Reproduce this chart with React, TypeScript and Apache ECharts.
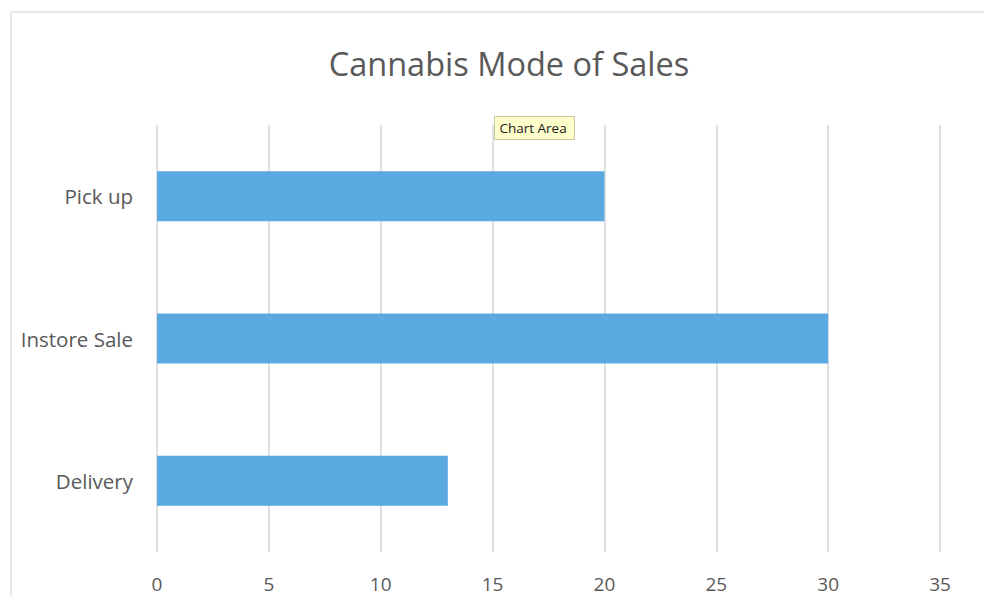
import React, { useEffect, useRef } from "react";
import * as echarts from "echarts";

const categories = ["Pick up", "Instore Sale", "Delivery"];
const values = [20, 30, 13];
const titleText = "Cannabis Mode of Sales";
const tipText = "Chart Area";

export default function App() {
  const ref = useRef<HTMLDivElement>(null);
  useEffect(() => {
    const chart = echarts.init(ref.current!, null, { renderer: "svg" });
    chart.setOption({
      animation: false,
      backgroundColor: "#ffffff",
      title: {
        text: titleText,
        left: 504,
        top: 42,
        textAlign: "center",
        textStyle: { fontFamily: "Open Sans", fontSize: 32.5, fontWeight: "normal", color: "#595959" },
      },
      grid: { left: 157, right: 44, top: 125, bottom: 44, containLabel: false },
      xAxis: {
        type: "value",
        min: 0,
        max: 35,
        interval: 5,
        axisLine: { show: false },
        axisTick: { show: false },
        axisLabel: { fontFamily: "Open Sans", fontSize: 19, color: "#595959", margin: 22 },
        splitLine: { show: true, lineStyle: { color: "#e0e0e0", width: 2 } },
      },
      yAxis: {
        type: "category",
        data: categories,
        inverse: true,
        axisLine: { show: false },
        axisTick: { show: false },
        axisLabel: { fontFamily: "Open Sans", fontSize: 20.5, color: "#595959", margin: 24 },
        splitLine: { show: false },
      },
      series: [
        {
          type: "bar",
          data: values,
          barWidth: 50,
          itemStyle: { color: "#5aa9e0" },
        },
      ],
      graphic: [
        {
          type: "rect",
          shape: { x: 11, y: 12, width: 990, height: 600 },
          style: { fill: "none", stroke: "#e8e8e8", lineWidth: 2 },
          z: 100,
        },
        {
          type: "rect",
          shape: { x: 494.5, y: 116.5, width: 80, height: 23 },
          style: { fill: "#ffffcc", stroke: "#c8c8a0", lineWidth: 1 },
          z: 101,
        },
        {
          type: "text",
          x: 533,
          y: 128,
          style: {
            text: tipText,
            fill: "#1a1a1a",
            font: "13.5px 'Open Sans'",
            align: "center",
            verticalAlign: "middle",
          },
          z: 102,
        },
      ],
    });
    return () => chart.dispose();
  }, []);
  return <div ref={ref} style={{ width: 984, height: 596, position: "absolute", left: 0, top: 0 }} />;
}
